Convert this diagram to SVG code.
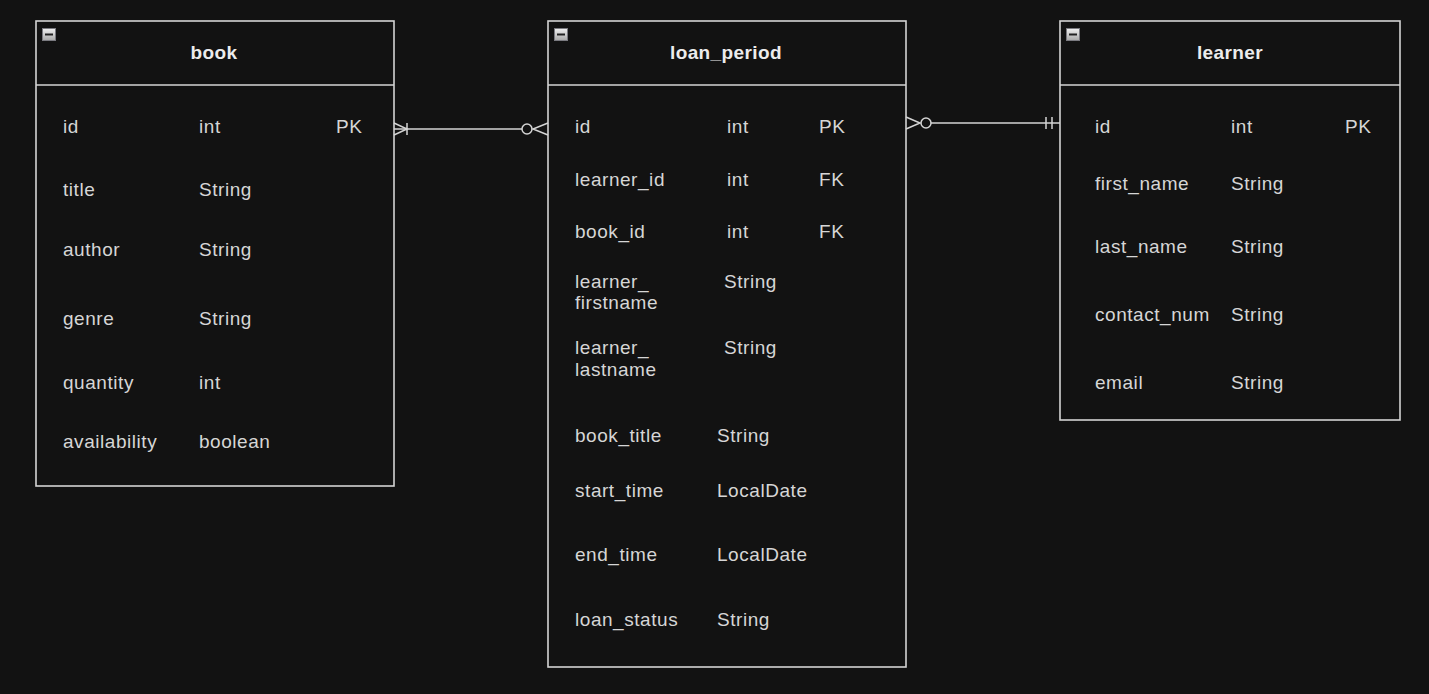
<svg xmlns="http://www.w3.org/2000/svg" width="1429" height="694" viewBox="0 0 1429 694">
<defs>
<linearGradient id="ig" x1="0" y1="0" x2="0" y2="1"><stop offset="0" stop-color="#f0f0f0"/><stop offset="1" stop-color="#a8a8a8"/></linearGradient>
<g id="minus"><rect x="0.5" y="0.5" width="13" height="12" fill="url(#ig)" stroke="#7a7a80" stroke-width="1"/><line x1="3" y1="6.5" x2="11" y2="6.5" stroke="#222" stroke-width="2"/></g>
</defs>
<style>
.box{fill:#121212;stroke:#d4d4d4;stroke-width:1.6}
.div{stroke:#d4d4d4;stroke-width:1.6}
.t{font-family:"Liberation Sans",Arial,sans-serif;font-size:19px;letter-spacing:0.55px;fill:#d6d6d6}
.h{font-family:"Liberation Sans",Arial,sans-serif;font-size:19px;letter-spacing:0.4px;font-weight:bold;fill:#ececec;text-anchor:middle}
.c{fill:none;stroke:#d4d4d4;stroke-width:1.5}
</style>
<rect width="1429" height="694" fill="#121212"/>

<g id="book">
<rect class="box" x="36" y="21" width="358" height="465"/>
<line class="div" x1="36" y1="85" x2="394" y2="85"/>
<use href="#minus" x="42" y="28"/>
<text class="h" x="214" y="59">book</text>
<text class="t" x="63" y="133">id</text><text class="t" x="199" y="133">int</text><text class="t" x="336" y="133">PK</text>
<text class="t" x="63" y="196">title</text><text class="t" x="199" y="196">String</text>
<text class="t" x="63" y="256">author</text><text class="t" x="199" y="256">String</text>
<text class="t" x="63" y="325">genre</text><text class="t" x="199" y="325">String</text>
<text class="t" x="63" y="389">quantity</text><text class="t" x="199" y="389">int</text>
<text class="t" x="63" y="448">availability</text><text class="t" x="199" y="448">boolean</text>
</g>

<g id="loan_period">
<rect class="box" x="548" y="21" width="358" height="646"/>
<line class="div" x1="548" y1="85" x2="906" y2="85"/>
<use href="#minus" x="554" y="28"/>
<text class="h" x="726" y="59">loan_period</text>
<text class="t" x="575" y="133">id</text><text class="t" x="727" y="133">int</text><text class="t" x="819" y="133">PK</text>
<text class="t" x="575" y="186">learner_id</text><text class="t" x="727" y="186">int</text><text class="t" x="819" y="186">FK</text>
<text class="t" x="575" y="238">book_id</text><text class="t" x="727" y="238">int</text><text class="t" x="819" y="238">FK</text>
<text class="t" x="575" y="288">learner_</text><text class="t" x="575" y="309">firstname</text><text class="t" x="724" y="288">String</text>
<text class="t" x="575" y="354">learner_</text><text class="t" x="575" y="376">lastname</text><text class="t" x="724" y="354">String</text>
<text class="t" x="575" y="442">book_title</text><text class="t" x="717" y="442">String</text>
<text class="t" x="575" y="497">start_time</text><text class="t" x="717" y="497">LocalDate</text>
<text class="t" x="575" y="561">end_time</text><text class="t" x="717" y="561">LocalDate</text>
<text class="t" x="575" y="626">loan_status</text><text class="t" x="717" y="626">String</text>
</g>

<g id="learner">
<rect class="box" x="1060" y="21" width="340" height="399"/>
<line class="div" x1="1060" y1="85" x2="1400" y2="85"/>
<use href="#minus" x="1066" y="28"/>
<text class="h" x="1230" y="59">learner</text>
<text class="t" x="1095" y="133">id</text><text class="t" x="1231" y="133">int</text><text class="t" x="1345" y="133">PK</text>
<text class="t" x="1095" y="190">first_name</text><text class="t" x="1231" y="190">String</text>
<text class="t" x="1095" y="253">last_name</text><text class="t" x="1231" y="253">String</text>
<text class="t" x="1095" y="321">contact_num</text><text class="t" x="1231" y="321">String</text>
<text class="t" x="1095" y="389">email</text><text class="t" x="1231" y="389">String</text>
</g>

<g id="connectors">
<path class="c" d="M394 129 H522"/>
<path class="c" d="M394 123 L407 129 L394 135 M407 123 V135"/>
<circle class="c" cx="527" cy="129" r="5" fill="#121212"/>
<path class="c" d="M548 123 L533 129 L548 135"/>
<path class="c" d="M931 123 H1060"/>
<path class="c" d="M906 117 L920 123 L906 129"/>
<circle class="c" cx="926" cy="123" r="5" fill="#121212"/>
<path class="c" d="M1046 117 V129 M1052 117 V129"/>
</g>
</svg>
